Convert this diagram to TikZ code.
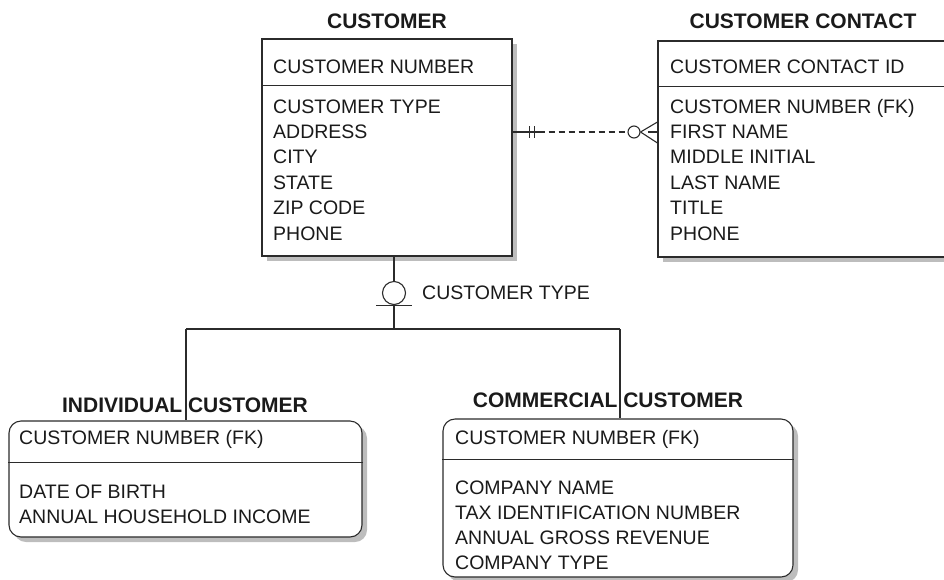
\documentclass[tikz,border=0pt]{standalone}
\usepackage{fontspec}
\setmainfont{Liberation Sans}
\usetikzlibrary{shadows}
\definecolor{ink}{HTML}{2B2B2B}
\definecolor{txt}{HTML}{1A1A1A}
\definecolor{shade}{HTML}{BDBDBD}
\begin{document}
\begin{tikzpicture}[x=1pt,y=-1pt,
  entbox/.style={draw=ink, line width=1.1pt, fill=white, inner sep=0pt,
    drop shadow={shadow xshift=5pt, shadow yshift=-5pt, fill=shade, opacity=1}},
  subbox/.style={entbox, rounded corners=12pt},
  attr/.style={anchor=base west, inner sep=0pt, font=\fontsize{19.5}{20}\selectfont, text=txt},
  ttl/.style={anchor=base, inner sep=0pt, font=\fontsize{21}{22}\selectfont\bfseries, text=txt},
  ln/.style={draw=ink, line width=1.1pt},
  dashln/.style={ln, dash pattern=on 6pt off 4pt}]
\useasboundingbox (0,0) rectangle (944,579);

% entity boxes
\node[entbox, minimum width=250pt, minimum height=217pt] (cust) at (387,147.5) {};
\node[entbox, minimum width=292pt, minimum height=216pt] (cont) at (804,149) {};
\node[subbox, minimum width=353pt, minimum height=116pt] (ind) at (185.5,479) {};
\node[subbox, minimum width=350pt, minimum height=158pt] (com) at (618,498) {};

% dividers
\draw[ln] ([yshift=-47pt]cust.north west) -- ([yshift=-47pt]cust.north east);
\draw[ln] ([yshift=-46pt]cont.north west) -- ([yshift=-46pt]cont.north east);
\draw[ln] ([yshift=-42pt]ind.north west) -- ([yshift=-42pt]ind.north east);
\draw[ln] ([yshift=-41pt]com.north west) -- ([yshift=-41pt]com.north east);

% subtype structure
\node[circle, draw=ink, line width=1.1pt, minimum size=23pt, inner sep=0pt] (subc) at (394,293) {};
\draw[ln] (cust.south -| subc) -- (subc.north);
\draw[ln] ([xshift=-18pt]subc.south) -- ([xshift=18pt]subc.south);
\coordinate (jn) at (394,329);
\coordinate (jl) at (186,329);
\coordinate (jr) at (620,329);
\draw[ln] (subc.south) -- (jn);
\draw[ln] (jl) -- (jr);
\draw[ln] (jl) -- (jl |- ind.north);
\draw[ln] (jr) -- (jr |- com.north);
\node[attr, anchor=west] (stype) at (422,293) {CUSTOMER TYPE};

% relationship customer -- contact
\coordinate (ra) at ([yshift=15.5pt]cust.east);
\coordinate (rb) at ([yshift=17pt]cont.west);
\node[circle, draw=ink, line width=1.1pt, minimum size=12pt, inner sep=0pt] (relc) at (634,132) {};
\draw[ln] (ra) -- ([xshift=26pt]ra);
\draw[ln] ([xshift=17pt,yshift=6pt]ra) -- ([xshift=17pt,yshift=-6pt]ra);
\draw[ln] ([xshift=22pt,yshift=6pt]ra) -- ([xshift=22pt,yshift=-6pt]ra);
\draw[dashln] ([xshift=26pt]ra) -- (relc.west);
\draw[ln] (relc.east) -- ([yshift=10pt]rb);
\draw[ln] (relc.east) -- ([yshift=-11pt]rb);
\draw[ln] ([xshift=-9pt]rb) -- (rb);

% titles
\node[ttl] (custT) at (387,28.5) {CUSTOMER};
\node[ttl] (contT) at (803,28.5) {CUSTOMER CONTACT};
\node[ttl] (indT) at (185,412.5) {INDIVIDUAL CUSTOMER};
\node[ttl] (comT) at (608,407.5) {COMMERCIAL CUSTOMER};

% customer
\node[attr] (ck) at (273,73) {CUSTOMER NUMBER};
\foreach \t [count=\i] in {CUSTOMER TYPE, ADDRESS, CITY, STATE, ZIP CODE, PHONE}
  \node[attr] (ca\i) at (273,{113+25.4*(\i-1)}) {\t};

% contact
\node[attr] (tk) at (670,73) {CUSTOMER CONTACT ID};
\foreach \t [count=\i] in {CUSTOMER NUMBER (FK), FIRST NAME, MIDDLE INITIAL, LAST NAME, TITLE, PHONE}
  \node[attr] (ta\i) at (670,{113+25.4*(\i-1)}) {\t};

% individual
\node[attr] (ik) at (19,444) {CUSTOMER NUMBER (FK)};
\foreach \t [count=\i] in {DATE OF BIRTH, ANNUAL HOUSEHOLD INCOME}
  \node[attr] (ia\i) at (19,{498+25.2*(\i-1)}) {\t};

% commercial
\node[attr] (mk) at (455,444) {CUSTOMER NUMBER (FK)};
\foreach \t [count=\i] in {COMPANY NAME, TAX IDENTIFICATION NUMBER, ANNUAL GROSS REVENUE, COMPANY TYPE}
  \node[attr] (ma\i) at (455,{494+25.3*(\i-1)}) {\t};
\end{tikzpicture}
\end{document}
